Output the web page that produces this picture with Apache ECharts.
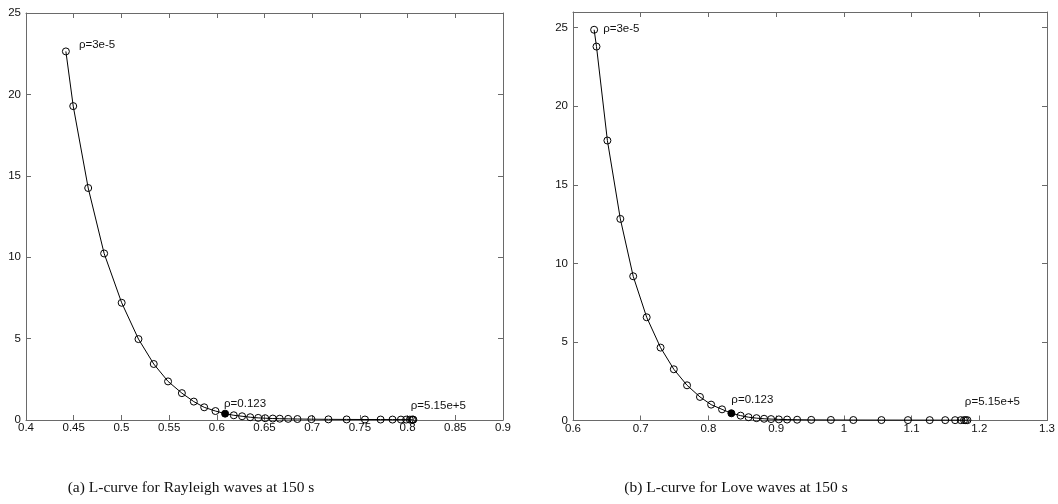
<!DOCTYPE html>
<html><head><meta charset="utf-8">
<script src="https://cdn.jsdelivr.net/npm/echarts@6/dist/echarts.min.js"></script>
<style>html,body{margin:0;padding:0;background:#fff}#c{width:1058px;height:504px}</style>
</head><body><div id="c"></div>
<script>
// Rayleigh L-curve (a)
var rayX = [0.4418, 0.4495, 0.4652, 0.4819, 0.5003, 0.5179, 0.5339, 0.5489, 0.5634, 0.5759, 0.5868, 0.5986, 0.6087, 0.6178, 0.6265, 0.6350, 0.6434, 0.6507, 0.6587, 0.6660, 0.6748, 0.6845, 0.6992, 0.7170, 0.7361, 0.7553, 0.7717, 0.7842, 0.7930, 0.7985, 0.8024, 0.8045, 0.8055, 0.8060];
var rayY = [22.64, 19.28, 14.25, 10.23, 7.2, 4.97, 3.44, 2.37, 1.65, 1.13, 0.78, 0.55, 0.39, 0.29, 0.23, 0.17, 0.13, 0.11, 0.09, 0.08, 0.07, 0.06, 0.05, 0.04, 0.035, 0.03, 0.028, 0.026, 0.025, 0.024, 0.023, 0.022, 0.022, 0.022];
var rayBest = 12;
// Love L-curve (b)
var loveX = [0.6312, 0.6347, 0.6508, 0.6699, 0.6889, 0.7088, 0.7293, 0.7489, 0.7684, 0.7875, 0.8040, 0.8201, 0.8339, 0.8475, 0.8592, 0.8710, 0.8822, 0.8925, 0.9040, 0.9162, 0.9310, 0.9518, 0.9808, 1.0140, 1.0555, 1.0946, 1.1268, 1.1497, 1.1643, 1.1726, 1.1775, 1.1800, 1.1825];
var loveY = [24.87, 23.8, 17.82, 12.83, 9.18, 6.57, 4.64, 3.26, 2.24, 1.50, 1.01, 0.71, 0.46, 0.31, 0.21, 0.15, 0.11, 0.09, 0.07, 0.06, 0.05, 0.04, 0.035, 0.03, 0.027, 0.025, 0.024, 0.023, 0.022, 0.022, 0.021, 0.021, 0.021];
var loveBest = 12;
var rhoLabels = ['\u03c1=3e-5', '\u03c1=0.123', '\u03c1=5.15e+5'];
var captions = ['(a) L-curve for Rayleigh waves at 150 s', '(b) L-curve for Love waves at 150 s'];

var chart = echarts.init(document.getElementById('c'), null, {renderer: 'canvas'});
var lineColor = '#6a6a6a';
var labelFont = {color: '#111', fontSize: 11.5, fontFamily: 'Liberation Sans, Arial, sans-serif'};

function fmt(v) { return String(Math.round(v * 1000) / 1000); }

function axisX(gi, min, max, interval, pos, showLabels) {
  return {
    type: 'value', gridIndex: gi, min: min, max: max, interval: interval, position: pos,
    axisLine: {show: true, onZero: false, lineStyle: {color: lineColor, width: 1}},
    axisTick: {show: true, inside: true, length: 5, lineStyle: {color: lineColor}},
    axisLabel: Object.assign({show: showLabels, margin: 2, formatter: fmt}, labelFont),
    splitLine: {show: false}
  };
}
function axisY(gi, min, max, interval, pos, showLabels) {
  return {
    type: 'value', gridIndex: gi, min: min, max: max, interval: interval, position: pos,
    axisLine: {show: true, onZero: false, lineStyle: {color: lineColor, width: 1}},
    axisTick: {show: true, inside: true, length: 5, lineStyle: {color: lineColor}},
    axisLabel: Object.assign({show: showLabels, margin: 5, showMaxLabel: max % interval === 0,
      formatter: function (v) { return (Math.abs(v % interval) < 1e-9) ? fmt(v) : ''; }}, labelFont),
    splitLine: {show: false}
  };
}

function buildData(xs, ys, best, offs) {
  var out = [];
  for (var i = 0; i < xs.length; i++) {
    var d = {value: [xs[i], ys[i]]};
    if (i === best) d.itemStyle = {color: '#000'};
    var li = (i === 0) ? 0 : (i === best ? 1 : (i === xs.length - 1 ? 2 : -1));
    if (li >= 0) {
      var o = offs[li];
      d.label = Object.assign({show: true, formatter: rhoLabels[li], position: o.pos, distance: o.dist, offset: o.off}, labelFont);
    }
    out.push(d);
  }
  return out;
}

function series(gi, data) {
  return {
    type: 'line', xAxisIndex: gi * 2, yAxisIndex: gi * 2, data: data,
    symbol: 'circle', symbolSize: 7, showAllSymbol: true, animation: false,
    lineStyle: {color: '#000', width: 1},
    itemStyle: {color: 'rgba(255,255,255,0)', borderColor: '#000', borderWidth: 1},
    emphasis: {disabled: true}
  };
}

var capStyle = {fontFamily: 'Liberation Serif, serif', fontWeight: 'normal', fontSize: 15.5, color: '#111'};
var option = {
  backgroundColor: '#fff',
  animation: false,
  title: [
    {text: captions[0], left: 186, top: 475, textAlign: 'center', textStyle: capStyle},
    {text: captions[1], left: 731, top: 475, textAlign: 'center', textStyle: capStyle}
  ],
  grid: [
    {left: 26, top: 13, width: 477, height: 407},
    {left: 573, top: 12, width: 479, height: 408.5}
  ],
  xAxis: [
    axisX(0, 0.4, 0.9, 0.05, 'bottom', true), axisX(0, 0.4, 0.9, 0.05, 'top', false),
    axisX(1, 0.6, 1.3, 0.1, 'bottom', true), axisX(1, 0.6, 1.3, 0.1, 'top', false)
  ],
  yAxis: [
    axisY(0, 0, 25, 5, 'left', true), axisY(0, 0, 25, 5, 'right', false),
    axisY(1, 0, 26, 5, 'left', true), axisY(1, 0, 26, 5, 'right', false)
  ],
  series: [
    series(0, buildData(rayX, rayY, rayBest, [
      {pos: 'right', dist: 9, off: [0, -7]},
      {pos: 'top', dist: 0, off: [20, 0]},
      {pos: 'top', dist: 0, off: [25, -4]}])),
    series(1, buildData(loveX, loveY, loveBest, [
      {pos: 'right', dist: 5, off: [0, -1]},
      {pos: 'top', dist: 0, off: [21, -3]},
      {pos: 'top', dist: 0, off: [25, -8]}]))
  ]
};
chart.setOption(option);
</script></body></html>
